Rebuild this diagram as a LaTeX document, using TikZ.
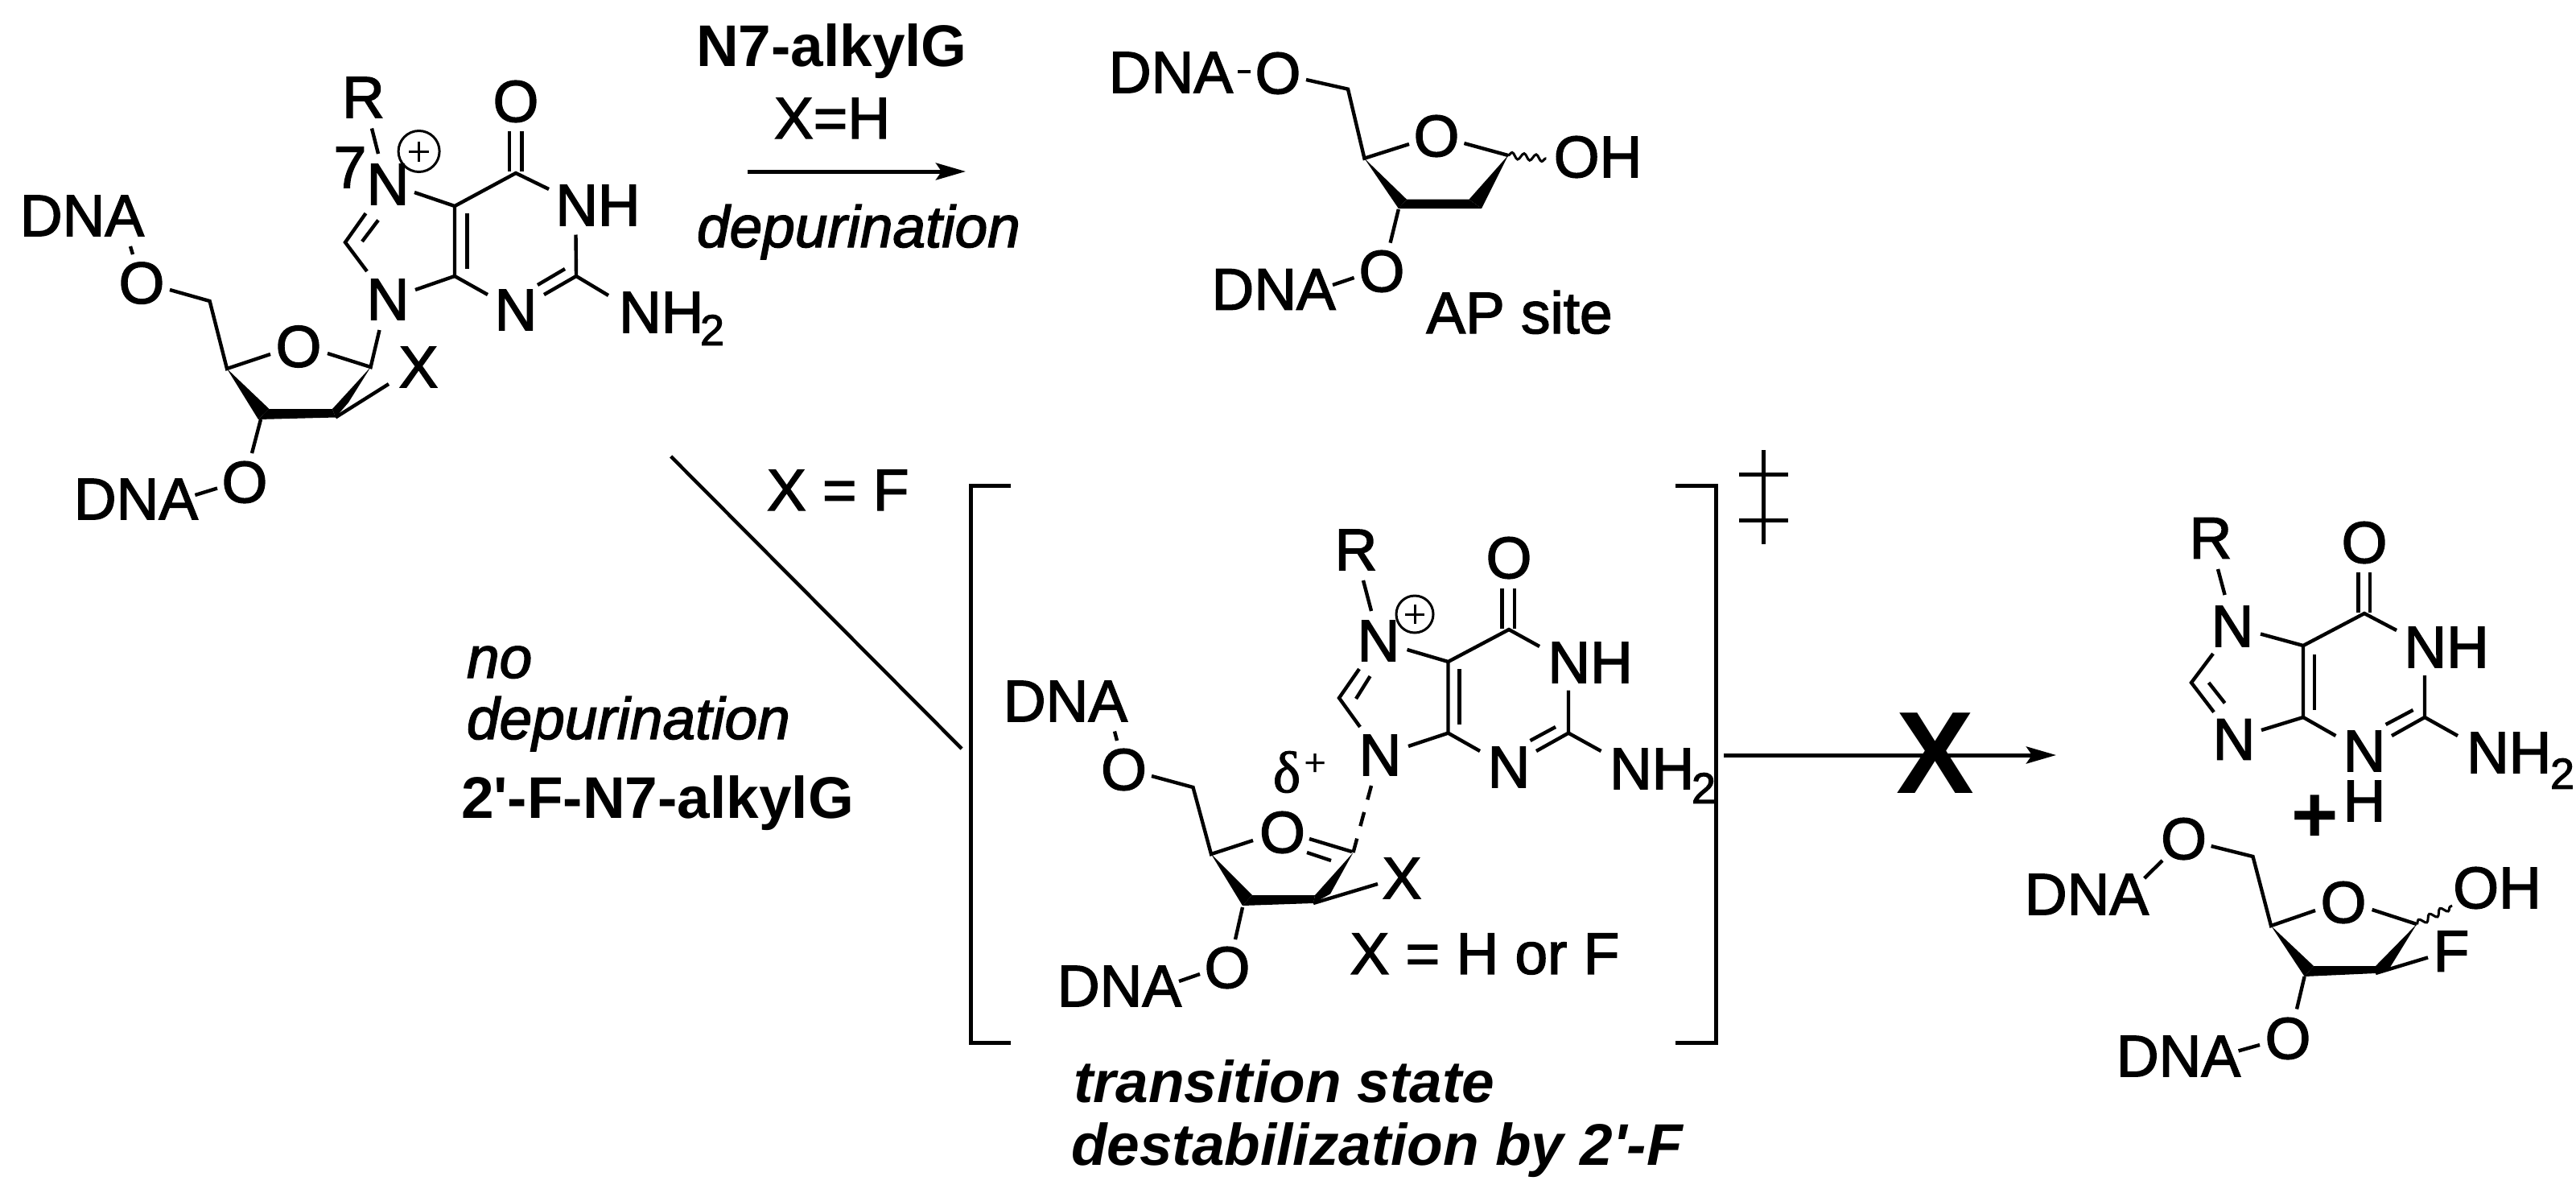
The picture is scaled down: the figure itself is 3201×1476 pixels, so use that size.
\documentclass[tikz,border=0pt]{standalone}
\usepackage{fontspec}
\newfontfamily\chem{Liberation Sans}[FakeBold=2]
\newfontfamily\plainf{Liberation Sans}
\newfontfamily\serifgk{Liberation Serif}[FakeBold=1.5]
\usetikzlibrary{arrows.meta,decorations.pathmorphing}
\tikzset{
  bond/.style={line width=4.4pt,line join=miter},
  thinb/.style={line width=3pt},
  wavy/.style={line width=3pt,decorate,decoration={snake,segment length=15pt,amplitude=4pt}},
  solid fill/.style={fill=black,draw=none},
  lbl/.style={inner sep=0pt,outer sep=0pt,font=\chem\fontsize{73}{73}\selectfont},
  bold lbl/.style={inner sep=0pt,outer sep=0pt,font=\plainf\fontsize{73}{73}\selectfont\bfseries},
  ital lbl/.style={inner sep=0pt,outer sep=0pt,font=\chem\fontsize{73}{73}\selectfont\itshape},
  bi lbl/.style={inner sep=0pt,outer sep=0pt,font=\plainf\fontsize{73}{73}\selectfont\bfseries\itshape},
  subs/.style={inner sep=0pt,outer sep=0pt,font=\chem\fontsize{54}{54}\selectfont},
  rxnarrow/.style={line width=5pt,-{Stealth[length=37pt,width=21pt,inset=7pt]}},
  frame/.style={line width=5pt,line join=miter}
}
\begin{document}
\begin{tikzpicture}[x=1pt,y=-1pt]
\useasboundingbox (0,0) rectangle (3201,1476);
\fill[white] (0,0) rectangle (3201,1476);
% ---------- Structure 1: N7-alkylG nucleoside
\node[lbl] (aR) at (451.5,121) {R};
\node[lbl] (aO) at (641,126) {O};
\node[lbl] (a7) at (435,208) {7};
\node[lbl] (aN7) at (482,229) {N};
\node[lbl] (aNH) at (743,255) {NH};
\node[lbl] (aN3) at (641,385) {N};
\node[lbl] (aN9) at (482,372) {N};
\node[lbl,anchor=west] (aNH2) at (769,388) {NH};
\node[subs] (a2) at (885,410) {2};
\node[lbl] (aO4) at (371,430.5) {O};
\node[lbl] (aOa) at (176,351.6) {O};
\node[lbl] (aDa) at (102,268) {DNA};
\node[lbl] (aX) at (520,456) {X};
\node[lbl] (aOb) at (304,599) {O};
\node[lbl] (aDb) at (169,620) {DNA};
\draw[thinb] (520.6,188) circle (25.5);
\draw[thinb] (508,188) -- (533,188) (520.6,175.5) -- (520.6,200.5);
\begin{scope}[bond]
\draw (462,159.5) -- (470,191);
\draw (633,163) -- (633,213) (648.5,163) -- (648.5,213);
\draw (515,239) -- (565,256) -- (641,215) -- (682,235);
\draw (565,256) -- (565,343) -- (606,366);
\draw (580.6,265) -- (580.6,333.6);
\draw (715.5,291.5) -- (716,343) -- (676,366);
\draw (702,334) -- (668,354);
\draw (716,343) -- (756,367);
\draw (565,343) -- (516,360);
\draw (456,337) -- (429,301) -- (454.5,265);
\draw (450,300) -- (470,273.5);
\draw (471.5,410) -- (460.6,456) -- (407,439);
\draw (336,440) -- (282,458) -- (260.6,374) -- (211,360);
\draw (165,316) -- (162,306);
\draw (417,518.5) -- (483,477);
\draw (324,521) -- (313,563);
\draw (270,606.5) -- (242.4,615);
\end{scope}
\fill[solid fill] (282,458) -- (334.5,508) -- (321,521) -- cycle;
\fill[solid fill] (334.5,508) -- (413,508) -- (417,518.5) -- (321,521) -- cycle;
\fill[solid fill] (460.6,456) -- (413,508) -- (417,518.5) -- (433,500) -- cycle;
% ---------- Top reaction labels
\node[bold lbl,anchor=base west] (t1) at (865,82) {N7-alkylG};
\node[lbl,anchor=base west] (t2) at (962,172) {X=H};
\coordinate (ar1s) at (929,213);
\coordinate (ar1e) at (1200,213);
\draw[rxnarrow] (ar1s) -- (ar1e);
\node[ital lbl,anchor=base west] (t3) at (866,307) {depurination};
% ---------- AP site
\node[lbl] (pD1) at (1455,90) {DNA};
\node[lbl] (pO5) at (1588,91) {O};
\node[lbl] (pO4) at (1785,169) {O};
\node[lbl] (pOH) at (1985.5,195) {OH};
\node[lbl] (pO3) at (1717,337) {O};
\node[lbl] (pD2) at (1582.6,359.5) {DNA};
\node[lbl,anchor=base] (pAP) at (1888,414) {AP site};
\begin{scope}[bond]
\draw (1538,89) -- (1554,89);
\draw (1623,99) -- (1675,110.7) -- (1695.4,196.7) -- (1751,179);
\draw (1819.4,178) -- (1874,193);
\draw (1737.8,260) -- (1727.6,301.7);
\draw (1682.6,345) -- (1656,354);
\end{scope}
\draw[wavy] (1874,193) -- (1921.4,197);
\fill[solid fill] (1695.4,196.7) -- (1748,247.7) -- (1737.8,259) -- cycle;
\fill[solid fill] (1748,247.7) -- (1825.5,247.7) -- (1841,259) -- (1737.8,259) -- cycle;
\fill[solid fill] (1874,193) -- (1825.5,247.7) -- (1841,259) -- cycle;
% ---------- X = F branch
\coordinate (dgs) at (833.7,567);
\coordinate (dge) at (1195,930);
\draw[bond] (dgs) -- (dge);
\node[lbl,anchor=base west] (xf) at (953,634) {X = F};
\node[ital lbl,anchor=base west] (no) at (580,842) {no};
\node[ital lbl,anchor=base west] (dep2) at (580,918) {depurination};
\node[bold lbl,anchor=base west] (fn7) at (573,1016) {2'-F-N7-alkylG};
% ---------- Brackets and double dagger
\draw[frame] (1256,603) -- (1206.5,603) -- (1206.5,1295) -- (1256,1295);
\draw[frame] (2082,603) -- (2132.5,603) -- (2132.5,1295) -- (2082,1295);
\draw[frame] (2191,559) -- (2191,676) (2161,589) -- (2222,589) (2161,646) -- (2222,646);
% ---------- Transition state
\node[lbl] (tR) at (1685,683) {R};
\node[lbl] (tO) at (1875,693) {O};
\node[lbl] (tN7) at (1713,796) {N};
\node[lbl] (tNH) at (1976,823) {NH};
\node[lbl] (tN3) at (1875,953) {N};
\node[lbl] (tN9) at (1715,938) {N};
\node[lbl,anchor=west] (tNH2) at (2000,955) {NH};
\node[subs] (t2s) at (2117,979) {2};
\node[lbl] (tO4) at (1593.5,1034) {O};
\node[lbl] (tOa) at (1396.5,956) {O};
\node[lbl] (tDa) at (1324,871) {DNA};
\node[lbl] (tX) at (1742,1091) {X};
\node[lbl] (tOb) at (1525,1202) {O};
\node[lbl] (tDb) at (1391,1225) {DNA};
\node[lbl] (tXeq) at (1845,1185) {X = H or F};
\node[lbl,font=\serifgk\fontsize{73}{73}\selectfont] (tdelta) at (1599,959) {δ};
\node[lbl,font=\serifgk\fontsize{48}{48}\selectfont] (tplus) at (1634,950) {+};
\draw[thinb] (1758,763) circle (23);
\draw[thinb] (1746,763) -- (1770,763) (1758,751) -- (1758,775);
\begin{scope}[bond]
\draw (1694,721) -- (1704,759);
\draw (1866.5,731) -- (1866.5,781) (1882,731) -- (1882,781);
\draw (1748.5,807) -- (1799.5,822) -- (1875,782) -- (1913,803);
\draw (1799.5,822) -- (1799.5,910.6) -- (1839,933);
\draw (1813.5,831) -- (1813.5,900);
\draw (1949,857.5) -- (1949,910.6) -- (1909,933);
\draw (1933,903) -- (1901.5,920);
\draw (1949,910.6) -- (1989.5,933);
\draw (1799.5,910.6) -- (1750,927);
\draw (1690,903) -- (1664,867) -- (1689,831);
\draw (1685,868) -- (1702.5,840);
\draw[dash pattern=on 18pt off 16pt] (1704,976) -- (1681.5,1059);
\draw (1627,1042) -- (1680,1058);
\draw (1624,1059) -- (1654,1069);
\draw (1557,1044) -- (1505,1061) -- (1482.5,978) -- (1431,964);
\draw (1388,920) -- (1385,908.5);
\draw (1632,1122) -- (1712,1098);
\draw (1544,1127) -- (1535,1167);
\draw (1491,1210) -- (1465,1219);
\end{scope}
\fill[solid fill] (1505,1061) -- (1556,1112) -- (1544,1125) -- cycle;
\fill[solid fill] (1556,1112) -- (1634,1112) -- (1632,1122) -- (1544,1125) -- cycle;
\fill[solid fill] (1681.5,1059) -- (1634,1112) -- (1632,1122) -- (1653,1110.5) -- cycle;
% ---------- Blocked arrow
\coordinate (ar2s) at (2142,938);
\coordinate (ar2e) at (2555,938);
\draw[rxnarrow] (ar2s) -- (ar2e);
\node[lbl,font=\plainf\fontsize{145}{145}\selectfont\bfseries] (bigX) at (2405,936) {X};
% ---------- Caption
\node[bi lbl,anchor=base west] (cap1) at (1334,1369) {transition state};
\node[bi lbl,anchor=base west] (cap2) at (1331,1447) {destabilization by 2'-F};
% ---------- Products: guanine
\node[lbl] (gR) at (2747,668.5) {R};
\node[lbl] (gO) at (2938,674) {O};
\node[lbl] (gN7) at (2774,778) {N};
\node[lbl] (gNH) at (3040,804) {NH};
\node[lbl] (gN3) at (2938,933) {N};
\node[lbl] (gH) at (2938,995) {H};
\node[lbl] (gN9) at (2776,918.5) {N};
\node[lbl,anchor=west] (gNH2) at (3065,935) {NH};
\node[subs] (g2s) at (3184,961) {2};
\node[lbl,font=\plainf\fontsize{100}{100}\selectfont\bfseries] (gplus) at (2877,1017) {+};
\begin{scope}[bond]
\draw (2756,707) -- (2764.6,739);
\draw (2930.6,711) -- (2930.6,761) (2945,711) -- (2945,761);
\draw (2809,787.5) -- (2862,802) -- (2938,762) -- (2978,783);
\draw (2862,802) -- (2862,891) -- (2902.4,914);
\draw (2876,813) -- (2876,882);
\draw (3013,839) -- (3013,891) -- (2972,914);
\draw (2998.5,882) -- (2964.6,900);
\draw (3013,891) -- (3054,914);
\draw (2862,891) -- (2810,907);
\draw (2750,812) -- (2723,848) -- (2751,884.6);
\draw (2744.6,848) -- (2764.6,873.4);
\end{scope}
% ---------- Products: fluoro sugar
\node[lbl] (sO5) at (2713.6,1042) {O};
\node[lbl] (sD1) at (2593,1111) {DNA};
\node[lbl] (sO4) at (2912,1121) {O};
\node[lbl] (sOH) at (3103,1103) {OH};
\node[lbl] (sF) at (3046,1181.6) {F};
\node[lbl] (sO3) at (2843,1290) {O};
\node[lbl] (sD2) at (2707,1312) {DNA};
\begin{scope}[bond]
\draw (2687,1069) -- (2664.6,1091);
\draw (2747.6,1051) -- (2799.5,1064) -- (2822,1150) -- (2877,1131);
\draw (2947.6,1130) -- (3003,1148);
\draw (2952,1209) -- (3017,1189.4);
\draw (2863.6,1213) -- (2854,1253.5);
\draw (2808,1298) -- (2781.6,1305.4);
\end{scope}
\draw[wavy] (3003,1148) -- (3047,1125);
\fill[solid fill] (2822,1150) -- (2875,1200) -- (2863.6,1213) -- cycle;
\fill[solid fill] (2875,1200) -- (2952,1200) -- (2952,1209) -- (2863.6,1213) -- cycle;
\fill[solid fill] (3003,1148) -- (2952,1200) -- (2952,1209) -- (2969.4,1202.5) -- cycle;
\end{tikzpicture}
\end{document}
